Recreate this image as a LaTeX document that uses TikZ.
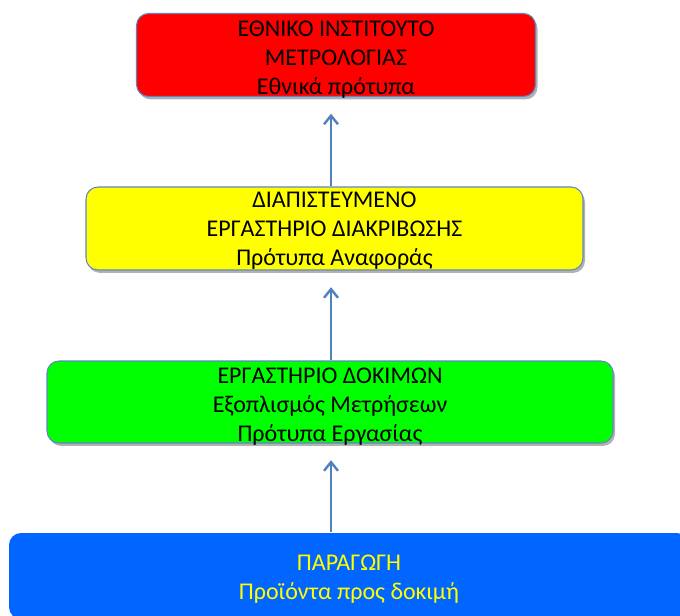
\documentclass[tikz,border=0pt]{standalone}
\usepackage{fontspec}
\setmainfont{Carlito}
\usetikzlibrary{arrows.meta,shadows,calc}
\definecolor{edgeblue}{HTML}{5F86C2}
\definecolor{arrblue}{HTML}{4F81BD}
\definecolor{boxred}{HTML}{FF0000}
\definecolor{boxyellow}{HTML}{FFFF00}
\definecolor{boxgreen}{HTML}{00FF00}
\definecolor{boxblue}{HTML}{0066FF}
\tikzset{
  level/.style={rounded corners=9pt, draw=edgeblue, line width=0.8pt, inner sep=0pt,
    drop shadow={shadow xshift=1.5pt, shadow yshift=-2.2pt, fill=black, opacity=0.3}},
  caption/.style={align=center, font=\fontsize{18}{21.75}\selectfont, inner sep=0pt},
  arr/.style={draw=arrblue, line width=1.8pt, -{Straight Barb[length=6.5pt,width=10.5pt,line width=1.8pt]}}
}
\begin{document}
\begin{tikzpicture}[x=0.75pt,y=-0.75pt]
\useasboundingbox (0,0) rectangle (680,615);
\clip (0,0) rectangle (680,615);
\fill[white] (0,0) rectangle (680,615);
\coordinate (ax) at (331,0);
\node[level, fill=boxred, minimum width=399*0.75pt, minimum height=83*0.75pt] (nat) at (336,55) {};
\node[caption] (natT) at ([yshift=-3.4pt]nat.center) {ΕΘΝΙΚΟ ΙΝΣΤΙΤΟΥΤΟ\\ΜΕΤΡΟΛΟΓΙΑΣ\\Εθνικά πρότυπα};
\node[level, fill=boxyellow, minimum width=497*0.75pt, minimum height=83*0.75pt] (acc) at (334.5,228.5) {};
\node[caption] (accT) at ([yshift=-1.8pt]acc.center) {ΔΙΑΠΙΣΤΕΥΜΕΝΟ\\ΕΡΓΑΣΤΗΡΙΟ ΔΙΑΚΡΙΒΩΣΗΣ\\Πρότυπα Αναφοράς};
\node[level, fill=boxgreen, minimum width=566*0.75pt, minimum height=82*0.75pt] (lab) at (330,402) {};
\node[caption] (labT) at ([yshift=-3.2pt]lab.center) {ΕΡΓΑΣΤΗΡΙΟ ΔΟΚΙΜΩΝ\\Εξοπλισμός Μετρήσεων\\Πρότυπα Εργασίας};
\node[level, draw=none, fill=boxblue, minimum width=680*0.75pt, minimum height=86*0.75pt] (prod) at (349,576) {};
\node[caption, text=boxyellow] (prodT) at ([yshift=-2.2pt]prod.center) {ΠΑΡΑΓΩΓΗ\\Προϊόντα προς δοκιμή};
\draw[arr] (prod.north -| ax) -- ([yshift=-12.5pt]lab.south -| ax);
\draw[arr] (lab.north -| ax) -- ([yshift=-12.5pt]acc.south -| ax);
\draw[arr] (acc.north -| ax) -- ([yshift=-12.5pt]nat.south -| ax);
\end{tikzpicture}
\end{document}
